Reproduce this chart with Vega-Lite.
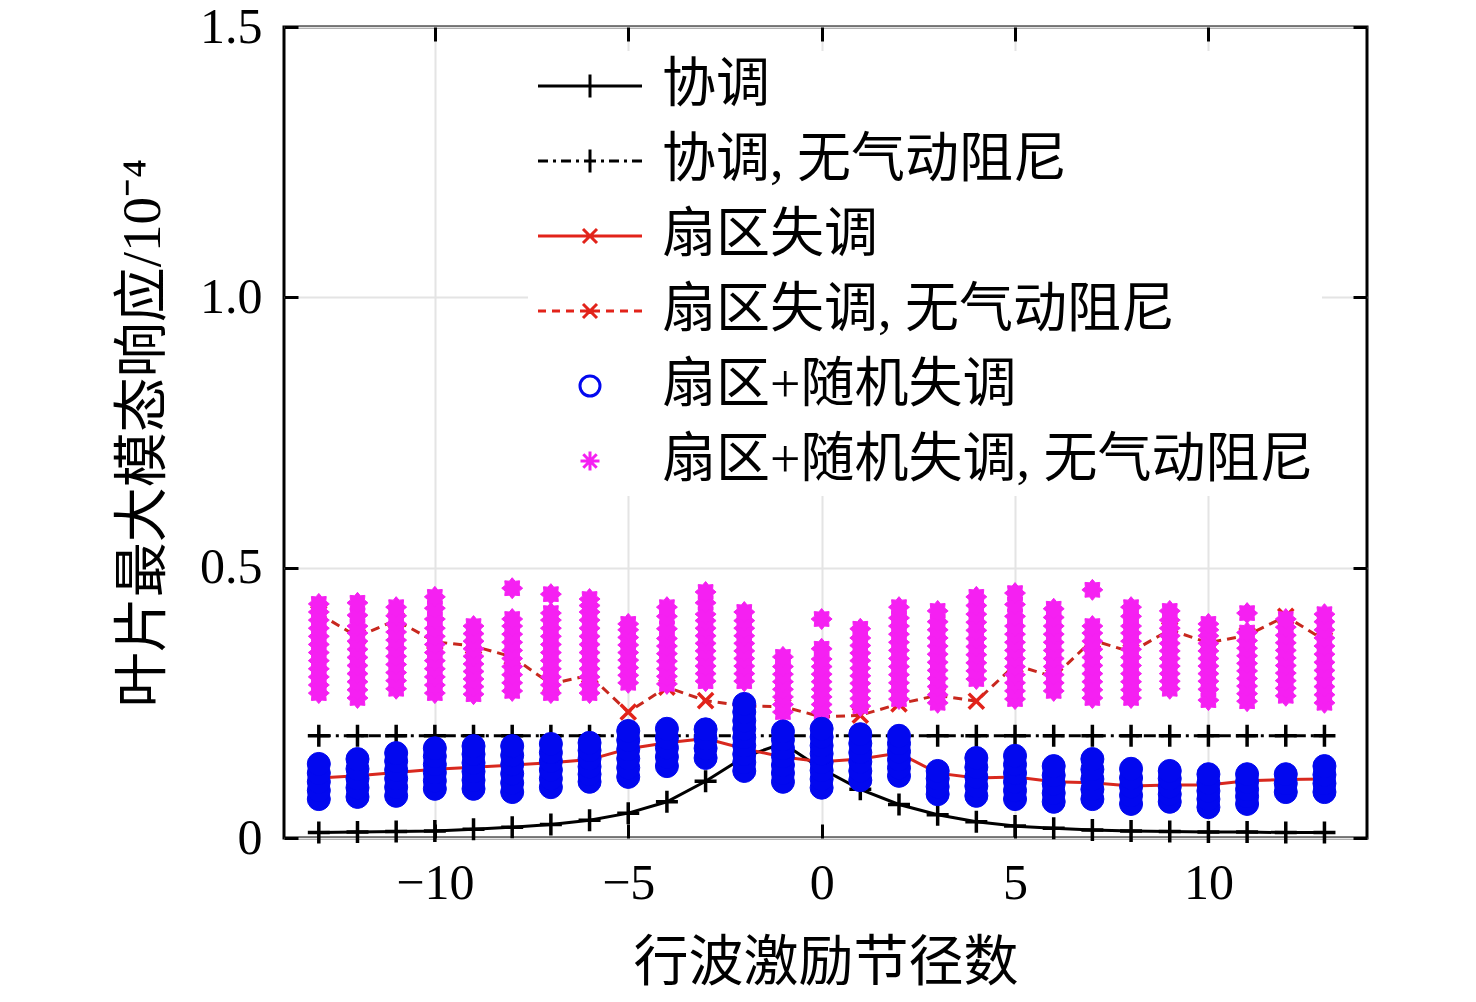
{
  "$schema": "https://vega.github.io/schema/vega-lite/v6.json",
  "autosize": "none",
  "padding": {"left": 284, "top": 27, "right": 109, "bottom": 164},
  "width": 1083,
  "height": 811,
  "background": "white",
  "data": {
    "values": [
      {"n":-13,"s":"a","v":0.010},{"n":-12,"s":"a","v":0.011},{"n":-11,"s":"a","v":0.012},{"n":-10,"s":"a","v":0.013},{"n":-9,"s":"a","v":0.016},{"n":-8,"s":"a","v":0.020},{"n":-7,"s":"a","v":0.025},{"n":-6,"s":"a","v":0.033},{"n":-5,"s":"a","v":0.046},{"n":-4,"s":"a","v":0.067},{"n":-3,"s":"a","v":0.105},{"n":-2,"s":"a","v":0.150},{"n":-1,"s":"a","v":0.175},{"n":0,"s":"a","v":0.128},{"n":1,"s":"a","v":0.090},{"n":2,"s":"a","v":0.062},{"n":3,"s":"a","v":0.043},{"n":4,"s":"a","v":0.030},{"n":5,"s":"a","v":0.022},{"n":6,"s":"a","v":0.018},{"n":7,"s":"a","v":0.015},{"n":8,"s":"a","v":0.013},{"n":9,"s":"a","v":0.012},{"n":10,"s":"a","v":0.011},{"n":11,"s":"a","v":0.011},{"n":12,"s":"a","v":0.010},{"n":13,"s":"a","v":0.010},
      {"n":-13,"s":"b","v":0.189},{"n":-12,"s":"b","v":0.189},{"n":-11,"s":"b","v":0.189},{"n":-10,"s":"b","v":0.189},{"n":-9,"s":"b","v":0.189},{"n":-8,"s":"b","v":0.189},{"n":-7,"s":"b","v":0.189},{"n":-6,"s":"b","v":0.189},{"n":-5,"s":"b","v":0.189},{"n":-4,"s":"b","v":0.189},{"n":-3,"s":"b","v":0.189},{"n":-2,"s":"b","v":0.189},{"n":-1,"s":"b","v":0.189},{"n":0,"s":"b","v":0.189},{"n":1,"s":"b","v":0.189},{"n":2,"s":"b","v":0.189},{"n":3,"s":"b","v":0.189},{"n":4,"s":"b","v":0.189},{"n":5,"s":"b","v":0.189},{"n":6,"s":"b","v":0.189},{"n":7,"s":"b","v":0.189},{"n":8,"s":"b","v":0.189},{"n":9,"s":"b","v":0.189},{"n":10,"s":"b","v":0.189},{"n":11,"s":"b","v":0.189},{"n":12,"s":"b","v":0.189},{"n":13,"s":"b","v":0.189},
      {"n":-13,"s":"c","v":0.111},{"n":-12,"s":"c","v":0.115},{"n":-11,"s":"c","v":0.121},{"n":-10,"s":"c","v":0.127},{"n":-9,"s":"c","v":0.131},{"n":-8,"s":"c","v":0.135},{"n":-7,"s":"c","v":0.139},{"n":-6,"s":"c","v":0.145},{"n":-5,"s":"c","v":0.165},{"n":-4,"s":"c","v":0.176},{"n":-3,"s":"c","v":0.184},{"n":-2,"s":"c","v":0.165},{"n":-1,"s":"c","v":0.150},{"n":0,"s":"c","v":0.141},{"n":1,"s":"c","v":0.146},{"n":2,"s":"c","v":0.157},{"n":3,"s":"c","v":0.120},{"n":4,"s":"c","v":0.111},{"n":5,"s":"c","v":0.113},{"n":6,"s":"c","v":0.104},{"n":7,"s":"c","v":0.102},{"n":8,"s":"c","v":0.096},{"n":9,"s":"c","v":0.098},{"n":10,"s":"c","v":0.098},{"n":11,"s":"c","v":0.106},{"n":12,"s":"c","v":0.108},{"n":13,"s":"c","v":0.109},
      {"n":-13,"s":"d","v":0.415},{"n":-12,"s":"d","v":0.372},{"n":-11,"s":"d","v":0.403},{"n":-10,"s":"d","v":0.363},{"n":-9,"s":"d","v":0.355},{"n":-8,"s":"d","v":0.335},{"n":-7,"s":"d","v":0.285},{"n":-6,"s":"d","v":0.301},{"n":-5,"s":"d","v":0.233},{"n":-4,"s":"d","v":0.279},{"n":-3,"s":"d","v":0.254},{"n":-2,"s":"d","v":0.244},{"n":-1,"s":"d","v":0.243},{"n":0,"s":"d","v":0.224},{"n":1,"s":"d","v":0.227},{"n":2,"s":"d","v":0.248},{"n":3,"s":"d","v":0.264},{"n":4,"s":"d","v":0.253},{"n":5,"s":"d","v":0.320},{"n":6,"s":"d","v":0.298},{"n":7,"s":"d","v":0.366},{"n":8,"s":"d","v":0.344},{"n":9,"s":"d","v":0.385},{"n":10,"s":"d","v":0.361},{"n":11,"s":"d","v":0.375},{"n":12,"s":"d","v":0.410},{"n":13,"s":"d","v":0.366},
      {"n":-13,"s":"f","v":0.268},{"n":-13,"s":"f","v":0.283},{"n":-13,"s":"f","v":0.298},{"n":-13,"s":"f","v":0.313},{"n":-13,"s":"f","v":0.328},{"n":-13,"s":"f","v":0.343},{"n":-13,"s":"f","v":0.358},{"n":-13,"s":"f","v":0.373},{"n":-13,"s":"f","v":0.388},{"n":-13,"s":"f","v":0.403},{"n":-13,"s":"f","v":0.418},{"n":-13,"s":"f","v":0.433},
      {"n":-12,"s":"f","v":0.259},{"n":-12,"s":"f","v":0.274},{"n":-12,"s":"f","v":0.289},{"n":-12,"s":"f","v":0.304},{"n":-12,"s":"f","v":0.319},{"n":-12,"s":"f","v":0.334},{"n":-12,"s":"f","v":0.349},{"n":-12,"s":"f","v":0.364},{"n":-12,"s":"f","v":0.379},{"n":-12,"s":"f","v":0.392},{"n":-12,"s":"f","v":0.412},{"n":-12,"s":"f","v":0.435},
      {"n":-11,"s":"f","v":0.276},{"n":-11,"s":"f","v":0.291},{"n":-11,"s":"f","v":0.306},{"n":-11,"s":"f","v":0.321},{"n":-11,"s":"f","v":0.336},{"n":-11,"s":"f","v":0.351},{"n":-11,"s":"f","v":0.366},{"n":-11,"s":"f","v":0.381},{"n":-11,"s":"f","v":0.396},{"n":-11,"s":"f","v":0.411},{"n":-11,"s":"f","v":0.427},
      {"n":-10,"s":"f","v":0.268},{"n":-10,"s":"f","v":0.283},{"n":-10,"s":"f","v":0.298},{"n":-10,"s":"f","v":0.313},{"n":-10,"s":"f","v":0.328},{"n":-10,"s":"f","v":0.343},{"n":-10,"s":"f","v":0.358},{"n":-10,"s":"f","v":0.373},{"n":-10,"s":"f","v":0.388},{"n":-10,"s":"f","v":0.405},{"n":-10,"s":"f","v":0.425},{"n":-10,"s":"f","v":0.446},
      {"n":-9,"s":"f","v":0.266},{"n":-9,"s":"f","v":0.280},{"n":-9,"s":"f","v":0.294},{"n":-9,"s":"f","v":0.308},{"n":-9,"s":"f","v":0.322},{"n":-9,"s":"f","v":0.336},{"n":-9,"s":"f","v":0.350},{"n":-9,"s":"f","v":0.364},{"n":-9,"s":"f","v":0.378},{"n":-9,"s":"f","v":0.392},
      {"n":-8,"s":"f","v":0.272},{"n":-8,"s":"f","v":0.287},{"n":-8,"s":"f","v":0.302},{"n":-8,"s":"f","v":0.317},{"n":-8,"s":"f","v":0.332},{"n":-8,"s":"f","v":0.347},{"n":-8,"s":"f","v":0.362},{"n":-8,"s":"f","v":0.377},{"n":-8,"s":"f","v":0.392},{"n":-8,"s":"f","v":0.405},{"n":-8,"s":"f","v":0.462},
      {"n":-7,"s":"f","v":0.268},{"n":-7,"s":"f","v":0.283},{"n":-7,"s":"f","v":0.298},{"n":-7,"s":"f","v":0.313},{"n":-7,"s":"f","v":0.328},{"n":-7,"s":"f","v":0.343},{"n":-7,"s":"f","v":0.358},{"n":-7,"s":"f","v":0.373},{"n":-7,"s":"f","v":0.388},{"n":-7,"s":"f","v":0.403},{"n":-7,"s":"f","v":0.416},{"n":-7,"s":"f","v":0.451},
      {"n":-6,"s":"f","v":0.268},{"n":-6,"s":"f","v":0.283},{"n":-6,"s":"f","v":0.298},{"n":-6,"s":"f","v":0.313},{"n":-6,"s":"f","v":0.328},{"n":-6,"s":"f","v":0.343},{"n":-6,"s":"f","v":0.358},{"n":-6,"s":"f","v":0.373},{"n":-6,"s":"f","v":0.388},{"n":-6,"s":"f","v":0.403},{"n":-6,"s":"f","v":0.418},{"n":-6,"s":"f","v":0.430},{"n":-6,"s":"f","v":0.442},
      {"n":-5,"s":"f","v":0.287},{"n":-5,"s":"f","v":0.301},{"n":-5,"s":"f","v":0.315},{"n":-5,"s":"f","v":0.329},{"n":-5,"s":"f","v":0.343},{"n":-5,"s":"f","v":0.357},{"n":-5,"s":"f","v":0.371},{"n":-5,"s":"f","v":0.385},{"n":-5,"s":"f","v":0.396},
      {"n":-4,"s":"f","v":0.285},{"n":-4,"s":"f","v":0.299},{"n":-4,"s":"f","v":0.313},{"n":-4,"s":"f","v":0.327},{"n":-4,"s":"f","v":0.341},{"n":-4,"s":"f","v":0.355},{"n":-4,"s":"f","v":0.369},{"n":-4,"s":"f","v":0.387},{"n":-4,"s":"f","v":0.410},{"n":-4,"s":"f","v":0.427},
      {"n":-3,"s":"f","v":0.290},{"n":-3,"s":"f","v":0.304},{"n":-3,"s":"f","v":0.318},{"n":-3,"s":"f","v":0.332},{"n":-3,"s":"f","v":0.346},{"n":-3,"s":"f","v":0.360},{"n":-3,"s":"f","v":0.374},{"n":-3,"s":"f","v":0.388},{"n":-3,"s":"f","v":0.402},{"n":-3,"s":"f","v":0.414},{"n":-3,"s":"f","v":0.435},{"n":-3,"s":"f","v":0.455},
      {"n":-2,"s":"f","v":0.290},{"n":-2,"s":"f","v":0.304},{"n":-2,"s":"f","v":0.318},{"n":-2,"s":"f","v":0.332},{"n":-2,"s":"f","v":0.346},{"n":-2,"s":"f","v":0.360},{"n":-2,"s":"f","v":0.374},{"n":-2,"s":"f","v":0.388},{"n":-2,"s":"f","v":0.402},{"n":-2,"s":"f","v":0.418},
      {"n":-1,"s":"f","v":0.233},{"n":-1,"s":"f","v":0.247},{"n":-1,"s":"f","v":0.261},{"n":-1,"s":"f","v":0.275},{"n":-1,"s":"f","v":0.289},{"n":-1,"s":"f","v":0.303},{"n":-1,"s":"f","v":0.317},{"n":-1,"s":"f","v":0.335},
      {"n":0,"s":"f","v":0.233},{"n":0,"s":"f","v":0.247},{"n":0,"s":"f","v":0.261},{"n":0,"s":"f","v":0.275},{"n":0,"s":"f","v":0.289},{"n":0,"s":"f","v":0.303},{"n":0,"s":"f","v":0.317},{"n":0,"s":"f","v":0.331},{"n":0,"s":"f","v":0.350},{"n":0,"s":"f","v":0.405},
      {"n":1,"s":"f","v":0.244},{"n":1,"s":"f","v":0.258},{"n":1,"s":"f","v":0.272},{"n":1,"s":"f","v":0.286},{"n":1,"s":"f","v":0.300},{"n":1,"s":"f","v":0.314},{"n":1,"s":"f","v":0.328},{"n":1,"s":"f","v":0.342},{"n":1,"s":"f","v":0.356},{"n":1,"s":"f","v":0.370},{"n":1,"s":"f","v":0.387},
      {"n":2,"s":"f","v":0.257},{"n":2,"s":"f","v":0.272},{"n":2,"s":"f","v":0.287},{"n":2,"s":"f","v":0.302},{"n":2,"s":"f","v":0.317},{"n":2,"s":"f","v":0.332},{"n":2,"s":"f","v":0.347},{"n":2,"s":"f","v":0.362},{"n":2,"s":"f","v":0.377},{"n":2,"s":"f","v":0.392},{"n":2,"s":"f","v":0.407},{"n":2,"s":"f","v":0.427},
      {"n":3,"s":"f","v":0.250},{"n":3,"s":"f","v":0.265},{"n":3,"s":"f","v":0.280},{"n":3,"s":"f","v":0.295},{"n":3,"s":"f","v":0.310},{"n":3,"s":"f","v":0.325},{"n":3,"s":"f","v":0.340},{"n":3,"s":"f","v":0.355},{"n":3,"s":"f","v":0.370},{"n":3,"s":"f","v":0.385},{"n":3,"s":"f","v":0.400},{"n":3,"s":"f","v":0.420},
      {"n":4,"s":"f","v":0.294},{"n":4,"s":"f","v":0.309},{"n":4,"s":"f","v":0.324},{"n":4,"s":"f","v":0.339},{"n":4,"s":"f","v":0.354},{"n":4,"s":"f","v":0.369},{"n":4,"s":"f","v":0.384},{"n":4,"s":"f","v":0.399},{"n":4,"s":"f","v":0.414},{"n":4,"s":"f","v":0.430},{"n":4,"s":"f","v":0.446},
      {"n":5,"s":"f","v":0.257},{"n":5,"s":"f","v":0.272},{"n":5,"s":"f","v":0.287},{"n":5,"s":"f","v":0.302},{"n":5,"s":"f","v":0.317},{"n":5,"s":"f","v":0.332},{"n":5,"s":"f","v":0.347},{"n":5,"s":"f","v":0.362},{"n":5,"s":"f","v":0.377},{"n":5,"s":"f","v":0.392},{"n":5,"s":"f","v":0.410},{"n":5,"s":"f","v":0.432},{"n":5,"s":"f","v":0.453},
      {"n":6,"s":"f","v":0.272},{"n":6,"s":"f","v":0.287},{"n":6,"s":"f","v":0.302},{"n":6,"s":"f","v":0.317},{"n":6,"s":"f","v":0.332},{"n":6,"s":"f","v":0.347},{"n":6,"s":"f","v":0.362},{"n":6,"s":"f","v":0.377},{"n":6,"s":"f","v":0.392},{"n":6,"s":"f","v":0.408},{"n":6,"s":"f","v":0.424},
      {"n":7,"s":"f","v":0.259},{"n":7,"s":"f","v":0.274},{"n":7,"s":"f","v":0.289},{"n":7,"s":"f","v":0.304},{"n":7,"s":"f","v":0.319},{"n":7,"s":"f","v":0.334},{"n":7,"s":"f","v":0.349},{"n":7,"s":"f","v":0.364},{"n":7,"s":"f","v":0.379},{"n":7,"s":"f","v":0.392},{"n":7,"s":"f","v":0.459},
      {"n":8,"s":"f","v":0.259},{"n":8,"s":"f","v":0.274},{"n":8,"s":"f","v":0.289},{"n":8,"s":"f","v":0.304},{"n":8,"s":"f","v":0.319},{"n":8,"s":"f","v":0.334},{"n":8,"s":"f","v":0.349},{"n":8,"s":"f","v":0.364},{"n":8,"s":"f","v":0.379},{"n":8,"s":"f","v":0.392},{"n":8,"s":"f","v":0.410},{"n":8,"s":"f","v":0.427},
      {"n":9,"s":"f","v":0.276},{"n":9,"s":"f","v":0.290},{"n":9,"s":"f","v":0.304},{"n":9,"s":"f","v":0.318},{"n":9,"s":"f","v":0.332},{"n":9,"s":"f","v":0.346},{"n":9,"s":"f","v":0.360},{"n":9,"s":"f","v":0.374},{"n":9,"s":"f","v":0.388},{"n":9,"s":"f","v":0.403},{"n":9,"s":"f","v":0.420},
      {"n":10,"s":"f","v":0.255},{"n":10,"s":"f","v":0.275},{"n":10,"s":"f","v":0.290},{"n":10,"s":"f","v":0.304},{"n":10,"s":"f","v":0.318},{"n":10,"s":"f","v":0.332},{"n":10,"s":"f","v":0.346},{"n":10,"s":"f","v":0.360},{"n":10,"s":"f","v":0.374},{"n":10,"s":"f","v":0.385},{"n":10,"s":"f","v":0.396},
      {"n":11,"s":"f","v":0.253},{"n":11,"s":"f","v":0.267},{"n":11,"s":"f","v":0.281},{"n":11,"s":"f","v":0.295},{"n":11,"s":"f","v":0.309},{"n":11,"s":"f","v":0.323},{"n":11,"s":"f","v":0.337},{"n":11,"s":"f","v":0.351},{"n":11,"s":"f","v":0.365},{"n":11,"s":"f","v":0.380},{"n":11,"s":"f","v":0.416},
      {"n":12,"s":"f","v":0.263},{"n":12,"s":"f","v":0.277},{"n":12,"s":"f","v":0.291},{"n":12,"s":"f","v":0.305},{"n":12,"s":"f","v":0.319},{"n":12,"s":"f","v":0.333},{"n":12,"s":"f","v":0.347},{"n":12,"s":"f","v":0.361},{"n":12,"s":"f","v":0.375},{"n":12,"s":"f","v":0.390},{"n":12,"s":"f","v":0.405},
      {"n":13,"s":"f","v":0.250},{"n":13,"s":"f","v":0.265},{"n":13,"s":"f","v":0.280},{"n":13,"s":"f","v":0.295},{"n":13,"s":"f","v":0.310},{"n":13,"s":"f","v":0.325},{"n":13,"s":"f","v":0.340},{"n":13,"s":"f","v":0.355},{"n":13,"s":"f","v":0.370},{"n":13,"s":"f","v":0.385},{"n":13,"s":"f","v":0.400},{"n":13,"s":"f","v":0.414},
      {"n":-13,"s":"e","v":0.072},{"n":-13,"s":"e","v":0.088},{"n":-13,"s":"e","v":0.104},{"n":-13,"s":"e","v":0.120},{"n":-13,"s":"e","v":0.137},
      {"n":-12,"s":"e","v":0.076},{"n":-12,"s":"e","v":0.093},{"n":-12,"s":"e","v":0.110},{"n":-12,"s":"e","v":0.128},{"n":-12,"s":"e","v":0.146},
      {"n":-11,"s":"e","v":0.078},{"n":-11,"s":"e","v":0.094},{"n":-11,"s":"e","v":0.110},{"n":-11,"s":"e","v":0.126},{"n":-11,"s":"e","v":0.142},{"n":-11,"s":"e","v":0.157},
      {"n":-10,"s":"e","v":0.091},{"n":-10,"s":"e","v":0.106},{"n":-10,"s":"e","v":0.121},{"n":-10,"s":"e","v":0.136},{"n":-10,"s":"e","v":0.151},{"n":-10,"s":"e","v":0.166},
      {"n":-9,"s":"e","v":0.091},{"n":-9,"s":"e","v":0.107},{"n":-9,"s":"e","v":0.123},{"n":-9,"s":"e","v":0.139},{"n":-9,"s":"e","v":0.155},{"n":-9,"s":"e","v":0.170},
      {"n":-8,"s":"e","v":0.085},{"n":-8,"s":"e","v":0.102},{"n":-8,"s":"e","v":0.119},{"n":-8,"s":"e","v":0.136},{"n":-8,"s":"e","v":0.153},{"n":-8,"s":"e","v":0.170},
      {"n":-7,"s":"e","v":0.094},{"n":-7,"s":"e","v":0.110},{"n":-7,"s":"e","v":0.126},{"n":-7,"s":"e","v":0.142},{"n":-7,"s":"e","v":0.158},{"n":-7,"s":"e","v":0.174},
      {"n":-6,"s":"e","v":0.104},{"n":-6,"s":"e","v":0.118},{"n":-6,"s":"e","v":0.132},{"n":-6,"s":"e","v":0.147},{"n":-6,"s":"e","v":0.162},{"n":-6,"s":"e","v":0.176},
      {"n":-5,"s":"e","v":0.113},{"n":-5,"s":"e","v":0.130},{"n":-5,"s":"e","v":0.147},{"n":-5,"s":"e","v":0.164},{"n":-5,"s":"e","v":0.181},{"n":-5,"s":"e","v":0.198},
      {"n":-4,"s":"e","v":0.133},{"n":-4,"s":"e","v":0.150},{"n":-4,"s":"e","v":0.167},{"n":-4,"s":"e","v":0.185},{"n":-4,"s":"e","v":0.202},
      {"n":-3,"s":"e","v":0.148},{"n":-3,"s":"e","v":0.166},{"n":-3,"s":"e","v":0.184},{"n":-3,"s":"e","v":0.201},
      {"n":-2,"s":"e","v":0.124},{"n":-2,"s":"e","v":0.140},{"n":-2,"s":"e","v":0.155},{"n":-2,"s":"e","v":0.171},{"n":-2,"s":"e","v":0.186},{"n":-2,"s":"e","v":0.202},{"n":-2,"s":"e","v":0.217},{"n":-2,"s":"e","v":0.233},{"n":-2,"s":"e","v":0.248},
      {"n":-1,"s":"e","v":0.104},{"n":-1,"s":"e","v":0.120},{"n":-1,"s":"e","v":0.135},{"n":-1,"s":"e","v":0.151},{"n":-1,"s":"e","v":0.166},{"n":-1,"s":"e","v":0.182},{"n":-1,"s":"e","v":0.197},
      {"n":0,"s":"e","v":0.093},{"n":0,"s":"e","v":0.109},{"n":0,"s":"e","v":0.125},{"n":0,"s":"e","v":0.140},{"n":0,"s":"e","v":0.156},{"n":0,"s":"e","v":0.171},{"n":0,"s":"e","v":0.187},{"n":0,"s":"e","v":0.202},
      {"n":1,"s":"e","v":0.107},{"n":1,"s":"e","v":0.124},{"n":1,"s":"e","v":0.141},{"n":1,"s":"e","v":0.158},{"n":1,"s":"e","v":0.175},{"n":1,"s":"e","v":0.192},
      {"n":2,"s":"e","v":0.115},{"n":2,"s":"e","v":0.130},{"n":2,"s":"e","v":0.145},{"n":2,"s":"e","v":0.160},{"n":2,"s":"e","v":0.175},{"n":2,"s":"e","v":0.189},
      {"n":3,"s":"e","v":0.081},{"n":3,"s":"e","v":0.095},{"n":3,"s":"e","v":0.110},{"n":3,"s":"e","v":0.124},
      {"n":4,"s":"e","v":0.078},{"n":4,"s":"e","v":0.096},{"n":4,"s":"e","v":0.113},{"n":4,"s":"e","v":0.131},{"n":4,"s":"e","v":0.148},
      {"n":5,"s":"e","v":0.072},{"n":5,"s":"e","v":0.088},{"n":5,"s":"e","v":0.104},{"n":5,"s":"e","v":0.120},{"n":5,"s":"e","v":0.136},{"n":5,"s":"e","v":0.152},
      {"n":6,"s":"e","v":0.067},{"n":6,"s":"e","v":0.083},{"n":6,"s":"e","v":0.100},{"n":6,"s":"e","v":0.116},{"n":6,"s":"e","v":0.133},
      {"n":7,"s":"e","v":0.072},{"n":7,"s":"e","v":0.090},{"n":7,"s":"e","v":0.109},{"n":7,"s":"e","v":0.127},{"n":7,"s":"e","v":0.146},
      {"n":8,"s":"e","v":0.063},{"n":8,"s":"e","v":0.079},{"n":8,"s":"e","v":0.095},{"n":8,"s":"e","v":0.111},{"n":8,"s":"e","v":0.128},
      {"n":9,"s":"e","v":0.067},{"n":9,"s":"e","v":0.081},{"n":9,"s":"e","v":0.095},{"n":9,"s":"e","v":0.110},{"n":9,"s":"e","v":0.124},
      {"n":10,"s":"e","v":0.057},{"n":10,"s":"e","v":0.072},{"n":10,"s":"e","v":0.087},{"n":10,"s":"e","v":0.102},{"n":10,"s":"e","v":0.118},
      {"n":11,"s":"e","v":0.063},{"n":11,"s":"e","v":0.077},{"n":11,"s":"e","v":0.090},{"n":11,"s":"e","v":0.104},{"n":11,"s":"e","v":0.118},
      {"n":12,"s":"e","v":0.085},{"n":12,"s":"e","v":0.101},{"n":12,"s":"e","v":0.118},
      {"n":13,"s":"e","v":0.085},{"n":13,"s":"e","v":0.101},{"n":13,"s":"e","v":0.117},{"n":13,"s":"e","v":0.133}
    ]
  },
  "layer": [
    {
      "transform": [{"filter": "datum.s == 'a'"}],
      "mark": {"type": "line", "color": "#000000", "strokeWidth": 3},
      "encoding": {
        "x": {"field": "n", "type": "quantitative", "scale": {"domain": [-13.9, 14.1], "nice": false, "zero": false},
          "axis": {"orient": "bottom", "values": [-10, -5, 0, 5, 10], "grid": true, "gridColor": "#e4e4e4", "gridWidth": 2, "labelPadding": 34, "title": "行波激励节径数", "titleY": 98, "titleBaseline": "top"}},
        "y": {"field": "v", "type": "quantitative", "scale": {"domain": [0, 1.5], "nice": false},
          "axis": {"orient": "left", "values": [0, 0.5, 1, 1.5], "grid": true, "gridColor": "#e4e4e4", "gridWidth": 2, "labelPadding": 36, "labelFlush": false, "labelBaseline": "middle", "labelExpr": "datum.value == 0 ? '0' : format(datum.value, '.1f')", "title": "叶片最大模态响应/10⁻⁴", "titleX": -113}}
      }
    },
    {
      "transform": [{"filter": "datum.s == 'b'"}],
      "mark": {"type": "line", "color": "#000000", "strokeWidth": 3, "strokeDash": [12, 5, 3, 5]},
      "encoding": {
        "x": {"field": "n", "type": "quantitative", "axis": {"orient": "top", "values": [-10, -5, 0, 5, 10], "labels": false, "title": null}},
        "y": {"field": "v", "type": "quantitative", "axis": {"orient": "right", "values": [0, 0.5, 1, 1.5], "labels": false, "title": null}}
      }
    },
    {
      "transform": [{"filter": "datum.s == 'c'"}],
      "mark": {"type": "line", "color": "#d8281e", "strokeWidth": 3},
      "encoding": {
        "x": {"field": "n", "type": "quantitative", "axis": null},
        "y": {"field": "v", "type": "quantitative", "axis": null}
      }
    },
    {
      "transform": [{"filter": "datum.s == 'd'"}],
      "mark": {"type": "line", "color": "#c8281e", "strokeWidth": 3, "strokeDash": [9, 6]},
      "encoding": {
        "x": {"field": "n", "type": "quantitative", "axis": null},
        "y": {"field": "v", "type": "quantitative", "axis": null}
      }
    },
    {
      "transform": [{"filter": "datum.n == 13"}],
      "mark": {"type": "point", "filled": false, "opacity": 0, "strokeWidth": 3, "size": 400},
      "encoding": {
        "x": {"field": "n", "type": "quantitative", "axis": null},
        "y": {"field": "v", "type": "quantitative", "axis": null},
        "color": {"field": "s", "type": "nominal",
          "scale": {"domain": ["a", "b", "c", "d", "e", "f"], "range": ["#000000", "#000000", "#e2231a", "#e2231a", "#0208ef", "#f520f2"]},
          "legend": {
            "title": null, "orient": "none", "legendX": 244, "legendY": 24,
            "fillColor": "white", "padding": 8,
            "labelFont": "Liberation Serif, Noto Sans CJK SC", "labelFontSize": 54, "labelColor": "#000000", "labelLimit": 2000,
            "symbolSize": 400, "symbolStrokeWidth": 3, "symbolOpacity": 1, "symbolOffset": 27, "labelOffset": 45, "rowPadding": 21,
            "labelExpr": "datum.value == 'a' ? '协调' : datum.value == 'b' ? '协调, 无气动阻尼' : datum.value == 'c' ? '扇区失调' : datum.value == 'd' ? '扇区失调, 无气动阻尼' : datum.value == 'e' ? '扇区+随机失调' : '扇区+随机失调, 无气动阻尼'"
          }},
        "shape": {"field": "s", "type": "nominal",
          "scale": {"domain": ["a", "b", "c", "d", "e", "f"], "range": [
            "M-5.2,0H5.2M0,-1.15V1.15",
            "M-5.2,0H-4.2M-3.7,0H-3.4M-2.9,0H-1.9M-1.4,0H-1.1M-0.6,0H0.6M1.1,0H1.4M1.9,0H2.9M3.4,0H3.7M4.2,0H5.2M0,-1.15V1.15",
            "M-5.2,0H5.2M-0.7,-0.7L0.7,0.7M-0.7,0.7L0.7,-0.7",
            "M-5.2,0H-4.4M-3.8,0H-3.0M-2.4,0H-1.6M-1.0,0H1.0M1.6,0H2.4M3.0,0H3.8M4.4,0H5.2M-0.7,-0.7L0.7,0.7M-0.7,0.7L0.7,-0.7",
            "circle",
            "M-0.95,0H0.95M0,-0.95V0.95M-0.67,-0.67L0.67,0.67M-0.67,0.67L0.67,-0.67"]},
          "legend": {"title": null, "orient": "none", "legendX": 244, "legendY": 24}}
      }
    },
    {
      "transform": [{"filter": "datum.s == 'a' || datum.s == 'b'"}],
      "mark": {"type": "point", "filled": false, "opacity": 1, "strokeWidth": 3.5, "size": 484, "shape": "M-1,0H1M0,-1V1"},
      "encoding": {
        "x": {"field": "n", "type": "quantitative", "axis": null},
        "y": {"field": "v", "type": "quantitative", "axis": null},
        "color": {"field": "s", "type": "nominal"}
      }
    },
    {
      "transform": [{"filter": "datum.s == 'c' || datum.s == 'd'"}],
      "mark": {"type": "point", "filled": false, "opacity": 1, "strokeWidth": 3.5, "size": 230, "shape": "M-1,-1L1,1M-1,1L1,-1"},
      "encoding": {
        "x": {"field": "n", "type": "quantitative", "axis": null},
        "y": {"field": "v", "type": "quantitative", "axis": null},
        "color": {"field": "s", "type": "nominal"}
      }
    },
    {
      "transform": [{"filter": "datum.s == 'f'"}],
      "mark": {"type": "point", "filled": false, "fill": "#f520f2", "opacity": 1, "strokeWidth": 1, "size": 440, "shape": "M1,0L0.665,0.276L0.707,0.707L0.276,0.665L0,1L-0.276,0.665L-0.707,0.707L-0.665,0.276L-1,0L-0.665,-0.276L-0.707,-0.707L-0.276,-0.665L0,-1L0.276,-0.665L0.707,-0.707L0.665,-0.276Z"},
      "encoding": {
        "x": {"field": "n", "type": "quantitative", "axis": null},
        "y": {"field": "v", "type": "quantitative", "axis": null},
        "color": {"field": "s", "type": "nominal"}
      }
    },
    {
      "transform": [{"filter": "datum.s == 'e'"}],
      "mark": {"type": "point", "filled": false, "fill": "#0208ef", "opacity": 1, "strokeWidth": 1, "size": 530, "shape": "circle"},
      "encoding": {
        "x": {"field": "n", "type": "quantitative", "axis": null},
        "y": {"field": "v", "type": "quantitative", "axis": null},
        "color": {"field": "s", "type": "nominal"}
      }
    }
  ],
  "resolve": {"axis": {"x": "independent", "y": "independent"}},
  "config": {
    "view": {"stroke": "#000000", "strokeWidth": 3},
    "axis": {
      "domain": false, "ticks": true, "tickColor": "#000000", "tickWidth": 3, "tickSize": -14,
      "labelFont": "Liberation Serif, Noto Sans CJK SC", "labelFontSize": 50, "labelColor": "#000000",
      "titleFont": "Liberation Serif, Noto Sans CJK SC", "titleFontSize": 55, "titleFontWeight": "normal", "titleColor": "#000000",
      "grid": false
    }
  }
}
